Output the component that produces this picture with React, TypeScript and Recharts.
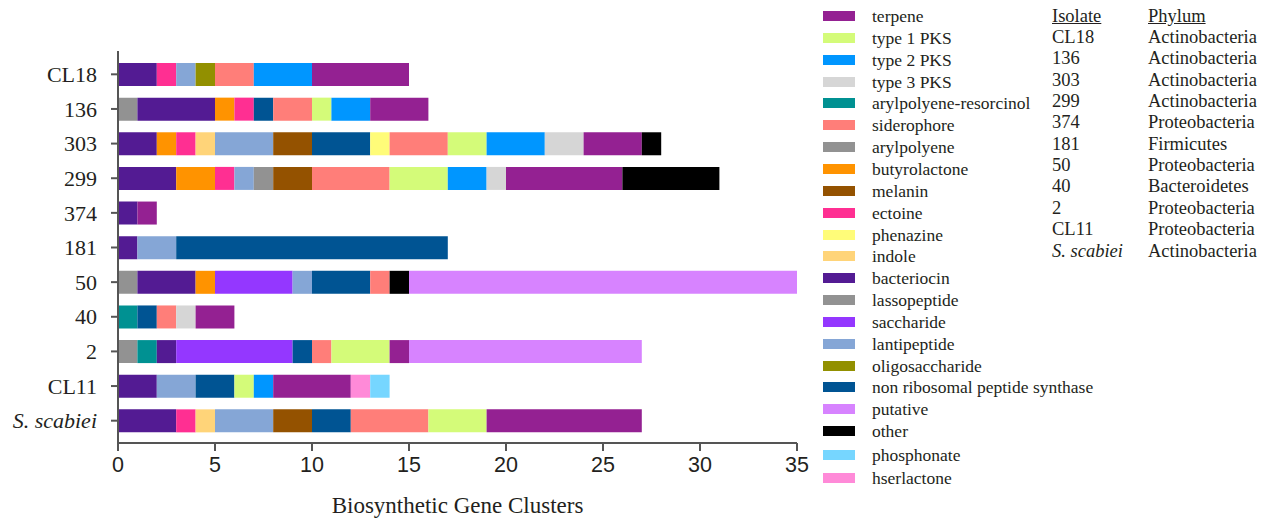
import React from "react";
import { BarChart, Bar, XAxis, YAxis } from "recharts";

const isolates = ["CL18", "136", "303", "299", "374", "181", "50", "40", "2", "CL11", "S. scabiei"];
const phyla = [
  "Actinobacteria", "Actinobacteria", "Actinobacteria", "Actinobacteria", "Proteobacteria",
  "Firmicutes", "Proteobacteria", "Bacteroidetes", "Proteobacteria", "Proteobacteria", "Actinobacteria",
];
const xTicks = [0, 5, 10, 15, 20, 25, 30, 35];

// values per isolate, same order as `isolates`
const arylpolyene = [0, 1, 0, 0, 0, 0, 1, 0, 1, 0, 0];
const arylpolyeneResorcinol = [0, 0, 0, 0, 0, 0, 0, 1, 1, 0, 0];
const bacteriocin = [2, 4, 2, 3, 1, 1, 3, 0, 1, 2, 3];
const butyrolactone = [0, 1, 1, 2, 0, 0, 1, 0, 0, 0, 0];
const ectoine = [1, 1, 1, 1, 0, 0, 0, 0, 0, 0, 1];
const indole = [0, 0, 1, 0, 0, 0, 0, 0, 0, 0, 1];
const saccharide = [0, 0, 0, 0, 0, 0, 4, 0, 6, 0, 0];
const lantipeptide = [1, 0, 3, 1, 0, 2, 1, 0, 0, 2, 3];
const lassopeptide = [0, 0, 0, 1, 0, 0, 0, 0, 0, 0, 0];
const oligosaccharide = [1, 0, 0, 0, 0, 0, 0, 0, 0, 0, 0];
const melanin = [0, 0, 2, 2, 0, 0, 0, 0, 0, 0, 2];
const nrps = [0, 1, 3, 0, 0, 14, 3, 1, 1, 2, 2];
const phenazine = [0, 0, 1, 0, 0, 0, 0, 0, 0, 0, 0];
const siderophore = [2, 2, 3, 4, 0, 0, 1, 1, 1, 0, 4];
const type1PKS = [0, 1, 2, 3, 0, 0, 0, 0, 3, 1, 3];
const type2PKS = [3, 2, 3, 2, 0, 0, 0, 0, 0, 1, 0];
const type3PKS = [0, 0, 2, 1, 0, 0, 0, 1, 0, 0, 0];
const terpene = [5, 3, 3, 6, 1, 0, 0, 2, 1, 4, 8];
const hserlactone = [0, 0, 0, 0, 0, 0, 0, 0, 0, 1, 0];
const phosphonate = [0, 0, 0, 0, 0, 0, 0, 0, 0, 1, 0];
const other = [0, 0, 1, 5, 0, 0, 1, 0, 0, 0, 0];
const putative = [0, 0, 0, 0, 0, 0, 20, 0, 12, 0, 0];

type Series = { key: string; label: string; color: string; values: number[] };

// stacking order (left to right)
const stackSeries: Series[] = [
  { key: "arylpolyene", label: "arylpolyene", color: "#929292", values: arylpolyene },
  { key: "arylpolyeneResorcinol", label: "arylpolyene-resorcinol", color: "#009192", values: arylpolyeneResorcinol },
  { key: "bacteriocin", label: "bacteriocin", color: "#531B93", values: bacteriocin },
  { key: "butyrolactone", label: "butyrolactone", color: "#FF9300", values: butyrolactone },
  { key: "ectoine", label: "ectoine", color: "#FF2F92", values: ectoine },
  { key: "indole", label: "indole", color: "#FFD479", values: indole },
  { key: "saccharide", label: "saccharide", color: "#9437FF", values: saccharide },
  { key: "lantipeptide", label: "lantipeptide", color: "#85A6D6", values: lantipeptide },
  { key: "lassopeptide", label: "lassopeptide", color: "#929292", values: lassopeptide },
  { key: "oligosaccharide", label: "oligosaccharide", color: "#929000", values: oligosaccharide },
  { key: "melanin", label: "melanin", color: "#945200", values: melanin },
  { key: "nrps", label: "non ribosomal peptide synthase", color: "#005493", values: nrps },
  { key: "phenazine", label: "phenazine", color: "#FFFC79", values: phenazine },
  { key: "siderophore", label: "siderophore", color: "#FF7E79", values: siderophore },
  { key: "type1PKS", label: "type 1 PKS", color: "#D4FB79", values: type1PKS },
  { key: "type2PKS", label: "type 2 PKS", color: "#0096FF", values: type2PKS },
  { key: "type3PKS", label: "type 3 PKS", color: "#D6D6D6", values: type3PKS },
  { key: "terpene", label: "terpene", color: "#942192", values: terpene },
  { key: "hserlactone", label: "hserlactone", color: "#FF8AD8", values: hserlactone },
  { key: "phosphonate", label: "phosphonate", color: "#76D6FF", values: phosphonate },
  { key: "other", label: "other", color: "#000000", values: other },
  { key: "putative", label: "putative", color: "#D783FF", values: putative },
];

const legendOrder = [
  "terpene", "type1PKS", "type2PKS", "type3PKS", "arylpolyeneResorcinol", "siderophore",
  "arylpolyene", "butyrolactone", "melanin", "ectoine", "phenazine", "indole", "bacteriocin",
  "lassopeptide", "saccharide", "lantipeptide", "oligosaccharide", "nrps", "putative", "other",
  "phosphonate", "hserlactone",
];

const data = isolates.map((iso, i) => {
  const row: Record<string, string | number> = { isolate: iso };
  stackSeries.forEach((s) => {
    row[s.key] = s.values[i];
  });
  return row;
});

const TEXT = "#231f20";
const SERIF = "'Liberation Serif', 'Times New Roman', serif";
const SANS = "'Liberation Sans', Arial, sans-serif";

const YTick = (props: any) => {
  const { x, y, payload } = props;
  const italic = payload.value === "S. scabiei";
  return (
    <text
      x={x}
      y={y}
      dy="0.35em"
      textAnchor="end"
      fill={TEXT}
      fontFamily={SERIF}
      fontSize={22}
      fontStyle={italic ? "italic" : "normal"}
    >
      {payload.value}
    </text>
  );
};

export default function App() {
  const legendTop = (i: number) => 16 + i * 21.85 + (i >= 20 ? (i - 19) * 1.6 : 0);
  return (
    <div style={{ position: "absolute", left: 0, top: 0, width: 1271, height: 523, background: "#fff" }}>
      <BarChart
        width={812}
        height={523}
        data={data}
        layout="vertical"
        margin={{ top: 51, right: 15, bottom: 0, left: 0 }}
        barSize={23}
      >
        <XAxis
          type="number"
          domain={[0, 35]}
          ticks={xTicks}
          interval={0}
          allowDataOverflow
          height={80}
          tickSize={8}
          tickMargin={6}
          axisLine={{ stroke: "#555", strokeWidth: 2 }}
          tickLine={{ stroke: "#555", strokeWidth: 2 }}
          tick={{ fill: TEXT, fontSize: 21.5, fontFamily: SANS }}
          label={{
            value: "Biosynthetic Gene Clusters",
            position: "insideBottom",
            offset: 10,
            fill: TEXT,
            fontSize: 23,
            fontFamily: SERIF,
          }}
        />
        <YAxis
          type="category"
          dataKey="isolate"
          width={118}
          padding={{ top: 6, bottom: 5 }}
          tickSize={7}
          tickMargin={14}
          interval={0}
          axisLine={{ stroke: "#555", strokeWidth: 2 }}
          tickLine={{ stroke: "#555", strokeWidth: 2 }}
          tick={<YTick />}
        />
        {stackSeries.map((s) => (
          <Bar key={s.key} dataKey={s.key} stackId="a" fill={s.color} isAnimationActive={false} />
        ))}
      </BarChart>

      {legendOrder.map((k, i) => {
        const s = stackSeries.find((ss) => ss.key === k)!;
        const c = legendTop(i);
        return (
          <React.Fragment key={k}>
            <div
              style={{ position: "absolute", left: 823, top: c - 5, width: 32, height: 10, background: s.color }}
            />
            <div
              style={{
                position: "absolute",
                left: 872,
                top: c - 11,
                height: 22,
                lineHeight: "22px",
                fontFamily: SERIF,
                fontSize: 17.5,
                color: TEXT,
                whiteSpace: "nowrap",
              }}
            >
              {s.label}
            </div>
          </React.Fragment>
        );
      })}

      <div
        style={{
          position: "absolute",
          left: 1052,
          top: 16 - 11,
          lineHeight: "22px",
          fontFamily: SERIF,
          fontSize: 18.5,
          color: TEXT,
          textDecoration: "underline",
        }}
      >
        Isolate
      </div>
      <div
        style={{
          position: "absolute",
          left: 1148,
          top: 16 - 11,
          lineHeight: "22px",
          fontFamily: SERIF,
          fontSize: 18.5,
          color: TEXT,
          textDecoration: "underline",
        }}
      >
        Phylum
      </div>
      {isolates.map((iso, i) => {
        const c = 37 + i * 21.35;
        return (
          <React.Fragment key={iso}>
            <div
              style={{
                position: "absolute",
                left: 1052,
                top: c - 11,
                lineHeight: "22px",
                fontFamily: SERIF,
                fontSize: 18.5,
                color: TEXT,
                fontStyle: iso === "S. scabiei" ? "italic" : "normal",
                whiteSpace: "nowrap",
              }}
            >
              {iso}
            </div>
            <div
              style={{
                position: "absolute",
                left: 1148,
                top: c - 11,
                lineHeight: "22px",
                fontFamily: SERIF,
                fontSize: 18.5,
                color: TEXT,
                whiteSpace: "nowrap",
              }}
            >
              {phyla[i]}
            </div>
          </React.Fragment>
        );
      })}
    </div>
  );
}
